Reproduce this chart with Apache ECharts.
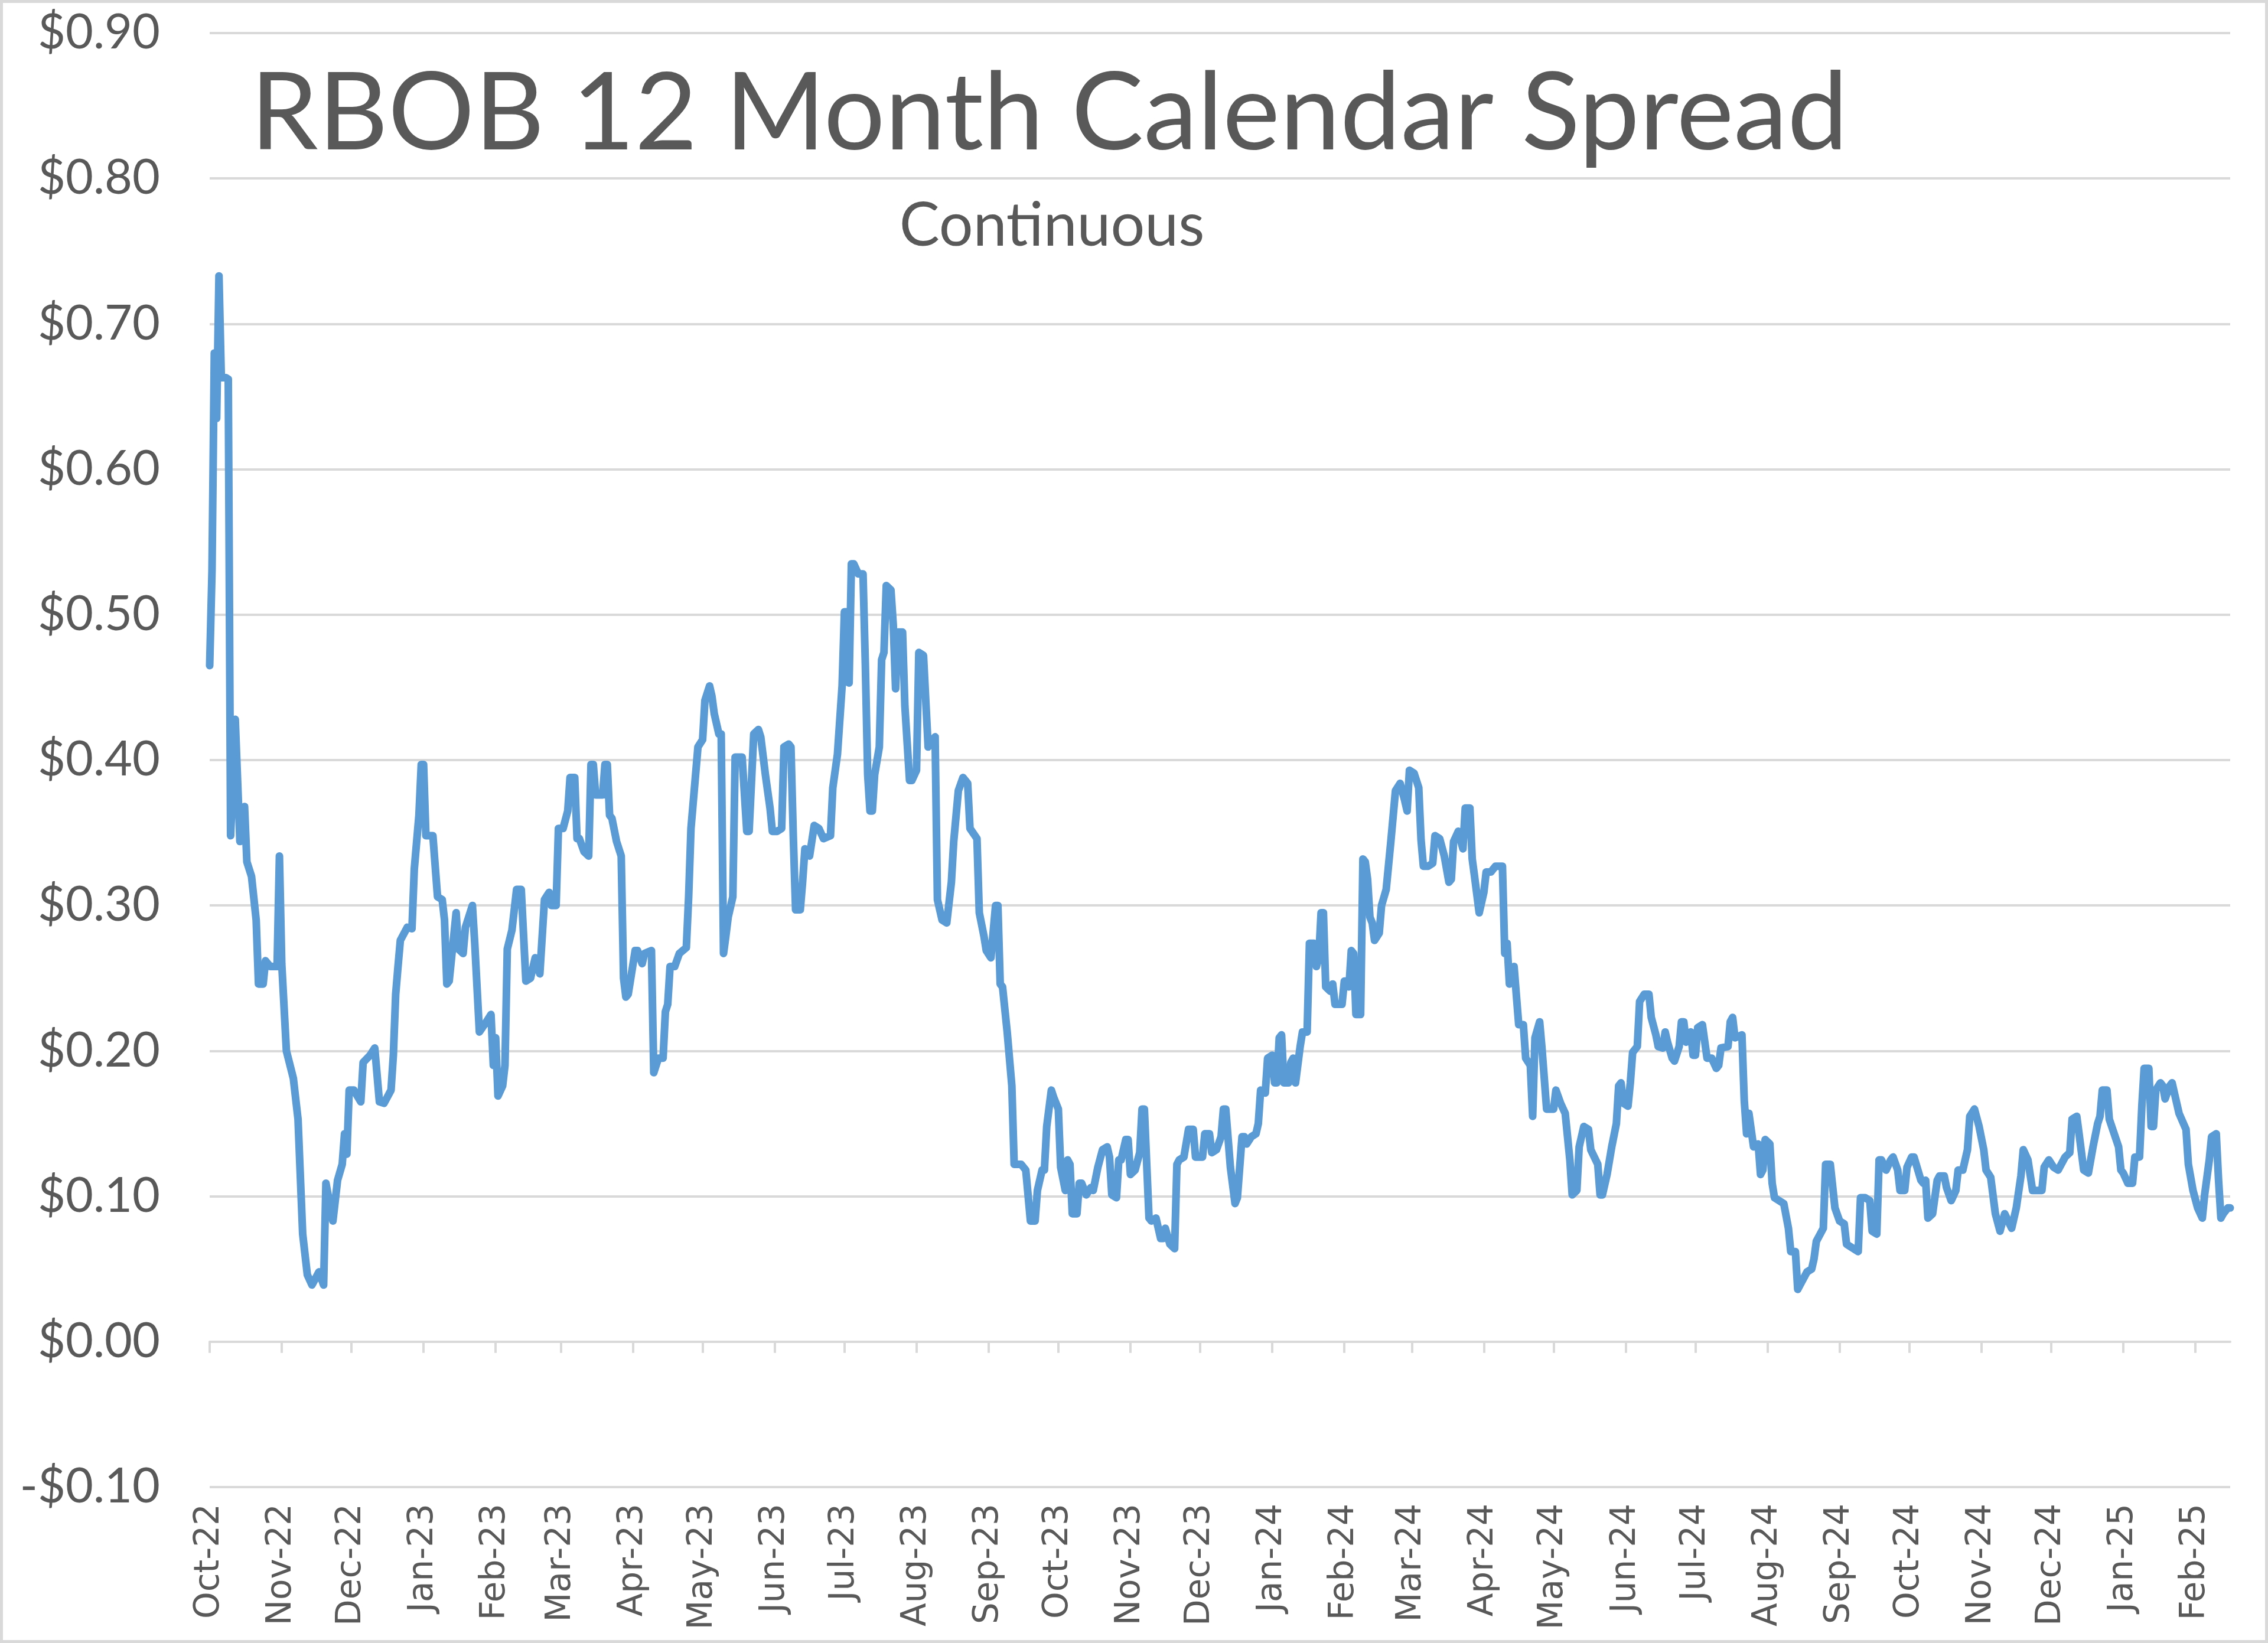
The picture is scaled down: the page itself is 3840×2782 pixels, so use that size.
<!DOCTYPE html>
<html><head><meta charset="utf-8">
<script src="https://cdn.jsdelivr.net/npm/echarts@6/dist/echarts.min.js"></script>
<style>html,body{margin:0;padding:0;background:#fff}#c{width:3840px;height:2782px}</style>
</head><body><div id="c"></div>
<script>
// x = days since START_DATE, y = spread in $/gal
const START_DATE = '2022-10-01';
const END_DAY = 869;
const tickDates = ['2022-10-01','2022-11-01','2022-12-01','2023-01-01','2023-02-01','2023-03-01','2023-04-01','2023-05-01','2023-06-01','2023-07-01','2023-08-01','2023-09-01','2023-10-01','2023-11-01','2023-12-01','2024-01-01','2024-02-01','2024-03-01','2024-04-01','2024-05-01','2024-06-01','2024-07-01','2024-08-01','2024-09-01','2024-10-01','2024-11-01','2024-12-01','2025-01-01','2025-02-01'];
const tickLabels = ['Oct-22','Nov-22','Dec-22','Jan-23','Feb-23','Mar-23','Apr-23','May-23','Jun-23','Jul-23','Aug-23','Sep-23','Oct-23','Nov-23','Dec-23','Jan-24','Feb-24','Mar-24','Apr-24','May-24','Jun-24','Jul-24','Aug-24','Sep-24','Oct-24','Nov-24','Dec-24','Jan-25','Feb-25'];

const seg1 = [[0,0.465],[1,0.53],[2,0.68],[3,0.635],[4,0.733],[5,0.663],[7,0.663],[8,0.662],[9,0.348],[11,0.428],[13,0.344],[15,0.368],[16,0.33],[18,0.32],[20,0.29],[21,0.246],[23,0.246],[24,0.262],[26,0.258],[29,0.258],[30,0.334],[31,0.26],[33,0.20],[36,0.181],[38,0.153],[40,0.074],[42,0.046],[44,0.039],[47,0.048],[49,0.039],[50,0.109],[53,0.083],[55,0.111],[57,0.122],[58,0.143],[59,0.129],[60,0.173],[62,0.173],[65,0.165],[66,0.192],[69,0.197],[71,0.202],[73,0.165],[75,0.164],[78,0.173],[79,0.197],[80,0.239],[81,0.258],[82,0.276],[85,0.285],[87,0.284],[88,0.325],[90,0.362],[91,0.397],[92,0.397],[93,0.348],[96,0.348],[98,0.306],[100,0.304],[101,0.29],[102,0.246],[103,0.248],[106,0.295],[107,0.27],[109,0.267],[110,0.285],[113,0.30],[114,0.274],[116,0.213],[119,0.22],[121,0.225],[122,0.19],[123,0.209],[124,0.169],[126,0.176],[127,0.19],[128,0.27],[130,0.283],[132,0.311],[134,0.311],[136,0.248],[138,0.25],[140,0.264],[142,0.253],[144,0.304],[146,0.309],[147,0.30]];
const seg2 = [[148,0.30],[149,0.30],[150,0.353],[152,0.353],[154,0.365],[155,0.388],[157,0.388],[158,0.346],[159,0.346],[161,0.337],[163,0.334],[164,0.397],[165,0.397],[166,0.376],[169,0.376],[170,0.397],[171,0.397],[172,0.362],[173,0.36],[175,0.344],[177,0.334],[178,0.25],[179,0.237],[180,0.239],[183,0.269],[184,0.269],[186,0.26],[187,0.267],[190,0.269],[191,0.185],[193,0.195],[195,0.195],[196,0.227],[197,0.232],[198,0.258],[200,0.258],[202,0.267],[205,0.271],[206,0.306],[207,0.353],[210,0.409],[212,0.414],[213,0.441],[215,0.451],[216,0.444],[217,0.432],[219,0.418],[220,0.418],[221,0.267],[222,0.279],[223,0.292],[225,0.306],[226,0.402],[229,0.402],[231,0.351],[232,0.351],[234,0.418],[236,0.421],[237,0.416],[239,0.39],[241,0.367],[242,0.351],[244,0.351],[246,0.353],[247,0.409],[249,0.411],[250,0.409],[251,0.348],[252,0.297],[254,0.297],[255,0.316],[256,0.339],[258,0.334],[260,0.355],[262,0.353],[264,0.346],[267,0.348],[268,0.381],[270,0.404],[272,0.451],[273,0.502],[274,0.502],[275,0.453],[276,0.535],[277,0.535],[279,0.528],[281,0.528],[282,0.465],[283,0.39],[284,0.365],[285,0.365],[286,0.39],[288,0.409],[289,0.469],[290,0.474],[291,0.52],[293,0.517],[294,0.493],[295,0.449]];
const seg3 = [[296,0.488],[298,0.488],[299,0.437],[301,0.386],[302,0.386],[304,0.393],[305,0.474],[307,0.472],[309,0.409],[312,0.416],[313,0.304],[315,0.29],[317,0.288],[319,0.316],[320,0.344],[322,0.379],[324,0.388],[326,0.384],[327,0.353],[330,0.346],[331,0.295],[333,0.279],[334,0.269],[336,0.264],[338,0.30],[339,0.30],[340,0.246],[341,0.244],[343,0.213],[345,0.176],[346,0.122],[349,0.122],[351,0.118],[353,0.083],[355,0.083],[356,0.104],[358,0.118],[359,0.118],[360,0.148],[362,0.173],[363,0.168],[365,0.16],[366,0.12],[368,0.104],[369,0.125],[370,0.122],[371,0.088],[373,0.088],[374,0.109],[375,0.109],[377,0.101],[379,0.106],[380,0.104],[382,0.12],[384,0.132],[386,0.134],[387,0.127],[388,0.101],[390,0.099],[391,0.125],[392,0.125],[394,0.139],[395,0.139],[396,0.115],[398,0.118],[400,0.13],[401,0.16],[402,0.16],[404,0.085],[405,0.083],[407,0.085],[409,0.071],[410,0.071],[411,0.078],[413,0.067],[415,0.064],[416,0.122],[417,0.125],[419,0.127],[421,0.146],[423,0.146],[424,0.127],[427,0.127],[428,0.143],[430,0.143],[431,0.13],[433,0.132],[435,0.141],[436,0.16],[437,0.16],[439,0.12],[441,0.095],[442,0.099]];
const seg4 = [[444,0.141],[445,0.141],[446,0.136],[448,0.141],[450,0.143],[451,0.15],[452,0.173],[454,0.171],[455,0.195],[457,0.197],[458,0.178],[459,0.178],[460,0.209],[461,0.211],[462,0.178],[464,0.178],[465,0.192],[466,0.195],[467,0.178],[469,0.203],[470,0.213],[472,0.213],[473,0.274],[475,0.274],[476,0.258],[477,0.264],[478,0.295],[479,0.295],[480,0.244],[482,0.241],[483,0.246],[484,0.232],[487,0.232],[488,0.248],[489,0.248],[490,0.244],[491,0.269],[492,0.267],[493,0.225],[495,0.225],[496,0.332],[497,0.33],[498,0.318],[499,0.292],[500,0.288],[501,0.276],[503,0.281],[504,0.30],[506,0.311],[508,0.344],[510,0.379],[512,0.384],[514,0.372],[515,0.365],[516,0.393],[518,0.391],[520,0.381],[521,0.345],[522,0.327],[524,0.327],[526,0.329],[527,0.348],[529,0.346],[531,0.334],[533,0.316],[534,0.318],[535,0.344],[537,0.351],[539,0.339],[540,0.367],[542,0.367],[543,0.332],[544,0.32],[546,0.295],[548,0.309],[549,0.323],[551,0.323],[553,0.327],[556,0.327],[557,0.267],[558,0.274],[559,0.246],[561,0.258],[563,0.218],[565,0.218],[566,0.195],[568,0.19],[569,0.155],[570,0.209],[572,0.22],[573,0.202],[575,0.16],[578,0.16],[579,0.173],[581,0.164],[583,0.157],[585,0.125],[586,0.101],[588,0.104],[589,0.134]];
const seg5 = [[591,0.148],[593,0.146],[594,0.132],[597,0.122],[598,0.101],[599,0.101],[601,0.115],[603,0.134],[605,0.15],[606,0.176],[607,0.178],[608,0.164],[610,0.162],[611,0.178],[612,0.199],[614,0.203],[615,0.234],[617,0.239],[619,0.239],[620,0.223],[622,0.211],[623,0.203],[625,0.202],[626,0.213],[627,0.206],[629,0.195],[630,0.193],[632,0.203],[633,0.22],[634,0.22],[635,0.206],[637,0.213],[638,0.197],[639,0.197],[640,0.216],[642,0.218],[644,0.195],[646,0.195],[648,0.188],[649,0.19],[650,0.202],[653,0.203],[654,0.22],[655,0.223],[656,0.209],[659,0.211],[660,0.166],[661,0.143],[662,0.157],[664,0.134],[666,0.136],[667,0.115],[668,0.118],[669,0.139],[671,0.136],[672,0.109],[673,0.099],[675,0.097],[677,0.095],[679,0.078],[680,0.062],[682,0.062],[683,0.036],[684,0.039],[687,0.048],[689,0.05],[690,0.057],[691,0.069],[694,0.078],[695,0.122],[697,0.122],[699,0.092],[701,0.083],[703,0.081],[704,0.067],[707,0.064],[709,0.062],[710,0.099],[712,0.099],[714,0.097],[715,0.076],[717,0.074],[718,0.125],[719,0.125],[721,0.118],[723,0.125],[724,0.127],[726,0.118],[727,0.104],[729,0.104],[730,0.12],[732,0.127],[733,0.127],[736,0.111],[737,0.109]];
const seg6 = [[738,0.111],[739,0.085],[741,0.088],[743,0.111],[744,0.114],[746,0.114],[747,0.106],[749,0.097],[751,0.104],[752,0.118],[754,0.118],[756,0.132],[757,0.155],[759,0.16],[761,0.148],[763,0.132],[764,0.118],[766,0.113],[768,0.088],[770,0.076],[772,0.088],[775,0.078],[777,0.092],[779,0.114],[780,0.132],[782,0.125],[784,0.104],[788,0.104],[789,0.12],[791,0.125],[793,0.12],[795,0.118],[798,0.127],[800,0.13],[801,0.153],[803,0.155],[804,0.143],[806,0.118],[808,0.116],[810,0.134],[812,0.15],[813,0.155],[814,0.173],[816,0.173],[817,0.153],[821,0.134],[822,0.118],[823,0.116],[825,0.109],[827,0.109],[828,0.127],[830,0.127],[831,0.162],[832,0.188],[834,0.188],[835,0.148],[836,0.148],[837,0.173],[839,0.178],[840,0.176],[841,0.167],[843,0.176],[844,0.178],[846,0.164],[847,0.157],[850,0.146],[851,0.122],[853,0.104],[855,0.092],[857,0.085],[858,0.101],[860,0.125],[861,0.141],[863,0.143],[864,0.111],[865,0.085],[866,0.088],[868,0.092],[869,0.092]];

const TITLE = 'RBOB 12 Month Calendar Spread';
const SUBTITLE = 'Continuous';

const DAY = 86400000;
const t0 = Date.parse(START_DATE);
const seriesData = [].concat(seg1, seg2, seg3, seg4, seg5, seg6);
// month-start positions expressed in days since START_DATE
const tickDays = tickDates.map(d => Math.round((Date.parse(d) - t0) / DAY));
function monthLabel(v) {
  for (let i = 0; i < tickDays.length; i++) if (Math.abs(tickDays[i] - v) < 0.5) return tickLabels[i];
  return '';
}
const TXT = '#595959', GRID = '#d9d9d9';
const chart = echarts.init(document.getElementById('c'), null, {renderer: 'canvas'});
chart.setOption({
  animation: false,
  backgroundColor: '#ffffff',
  grid: {left: 355, right: 64, top: 56, bottom: 264, containLabel: false},
  xAxis: [{
    type: 'value', min: 0, max: END_DAY, position: 'bottom',
    axisLine: {show: true, onZero: true, lineStyle: {color: GRID, width: 4}},
    axisTick: {show: true, length: 19, customValues: tickDays, lineStyle: {color: GRID, width: 4}},
    axisLabel: {show: false},
    splitLine: {show: false}
  }, {
    type: 'value', min: 0, max: END_DAY, position: 'bottom',
    axisLine: {show: false, onZero: false},
    axisTick: {show: false},
    splitLine: {show: false},
    axisLabel: {show: true, customValues: tickDays, rotate: 90, margin: 28, color: TXT,
      fontFamily: 'DejaVu Sans', fontSize: 58, hideOverlap: false,
      formatter: v => monthLabel(v)}
  }],
  yAxis: {
    type: 'value', min: -0.1, max: 0.9, interval: 0.1,
    axisLine: {show: false}, axisTick: {show: false},
    splitLine: {show: true, lineStyle: {color: GRID, width: 4}},
    axisLabel: {margin: 84, color: TXT, fontFamily: 'Lato', fontSize: 81,
      formatter: v => (v < -1e-9 ? '-$' : '$') + Math.abs(v).toFixed(2)}
  },
  series: [{
    type: 'line', xAxisIndex: 0, yAxisIndex: 0, data: seriesData,
    showSymbol: false, symbol: 'none', smooth: false,
    lineStyle: {color: '#5B9BD5', width: 13, join: 'round', cap: 'round'}
  }],
  graphic: [
    {type: 'rect', silent: true, shape: {x: 2.5, y: 2.5, width: 3835, height: 2777},
      style: {fill: 'none', stroke: '#d9d9d9', lineWidth: 5}},
    {type: 'text', x: 424, y: 194, silent: true,
      style: {text: TITLE, fill: TXT, fontFamily: 'Lato', fontSize: 183, align: 'left', verticalAlign: 'middle'}},
    {type: 'text', x: 1781, y: 383, silent: true,
      style: {text: SUBTITLE, fill: TXT, fontFamily: 'Lato', fontSize: 102, align: 'center', verticalAlign: 'middle'}}
  ]
});
</script></body></html>
